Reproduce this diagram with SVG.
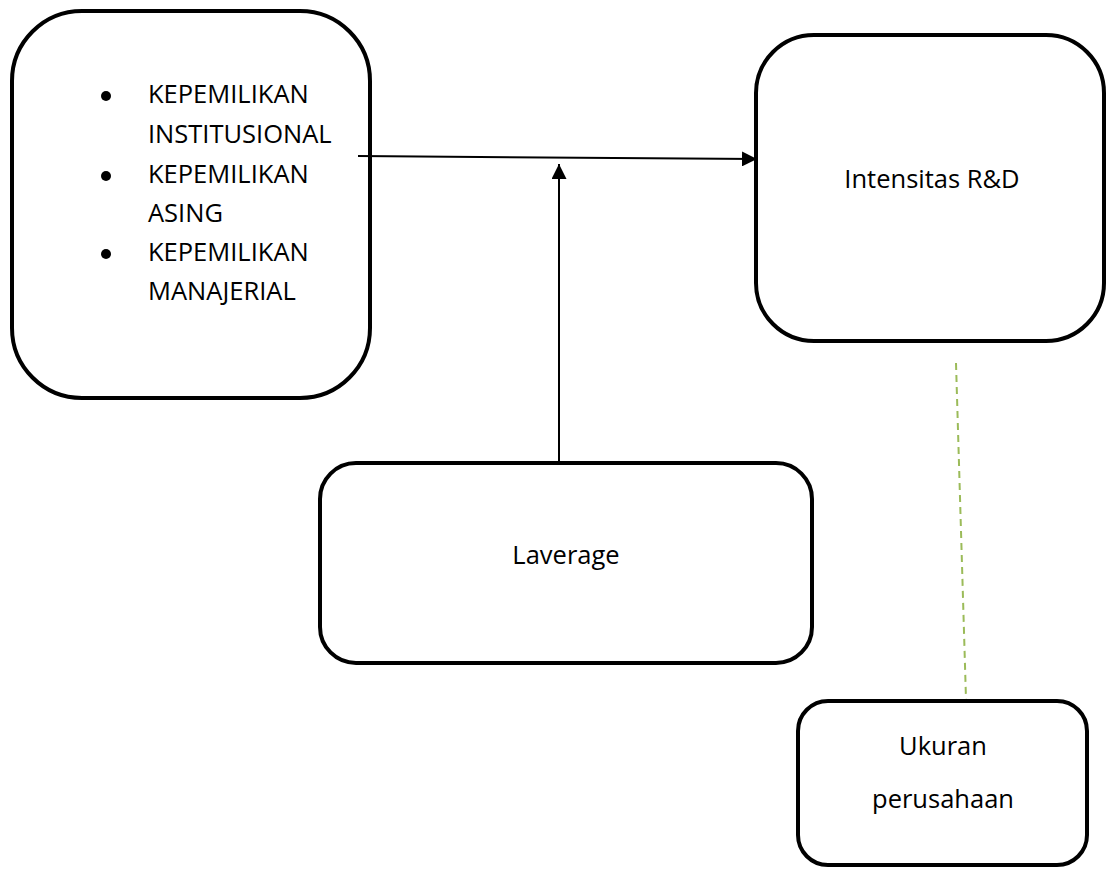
<svg xmlns="http://www.w3.org/2000/svg" width="1106" height="870" viewBox="0 0 1106 870">
<defs>
<style>
.box{fill:#fff;stroke:#000;stroke-width:4}
.t{font-family:"Open Sans","Liberation Sans",sans-serif;font-size:25.5px;fill:#000}
.c{text-anchor:middle}
.conn{stroke:#000;stroke-width:2;fill:none}
.dash{stroke:#9BBB59;stroke-width:2;stroke-dasharray:7 5;fill:none}
</style>
<marker id="ah" viewBox="0 0 10 10" refX="10" refY="5" markerWidth="15" markerHeight="15" markerUnits="userSpaceOnUse" orient="auto">
<path d="M0,0 L10,5 L0,10 Z" fill="#000"/>
</marker>
</defs>
<g id="node-kepemilikan">
<rect class="box" x="12" y="11" width="358" height="387" rx="70" ry="70"/>
<circle cx="106" cy="96" r="5"/>
<circle cx="106" cy="176" r="5"/>
<circle cx="106" cy="254" r="5"/>
<text class="t" x="148" y="103">KEPEMILIKAN</text>
<text class="t" x="148" y="143">INSTITUSIONAL</text>
<text class="t" x="148" y="183">KEPEMILIKAN</text>
<text class="t" x="148" y="222">ASING</text>
<text class="t" x="148" y="261">KEPEMILIKAN</text>
<text class="t" x="148" y="300">MANAJERIAL</text>
</g>
<g id="connectors">
<line class="conn" x1="358" y1="156" x2="757" y2="159" marker-end="url(#ah)"/>
<line class="conn" x1="559" y1="462" x2="559" y2="164" marker-end="url(#ah)"/>
<line class="dash" x1="956" y1="363" x2="966" y2="699"/>
</g>
<g id="node-intensitas">
<rect class="box" x="756" y="35" width="348" height="306" rx="58" ry="58"/>
<text class="t c" x="932" y="188">Intensitas R&amp;D</text>
</g>
<g id="node-laverage">
<rect class="box" x="320" y="463" width="492" height="200" rx="36" ry="36"/>
<text class="t c" x="566" y="564">Laverage</text>
</g>
<g id="node-ukuran">
<rect class="box" x="798" y="701" width="289" height="164" rx="30" ry="30"/>
<text class="t c" x="943" y="755">Ukuran</text>
<text class="t c" x="943" y="808">perusahaan</text>
</g>
</svg>
